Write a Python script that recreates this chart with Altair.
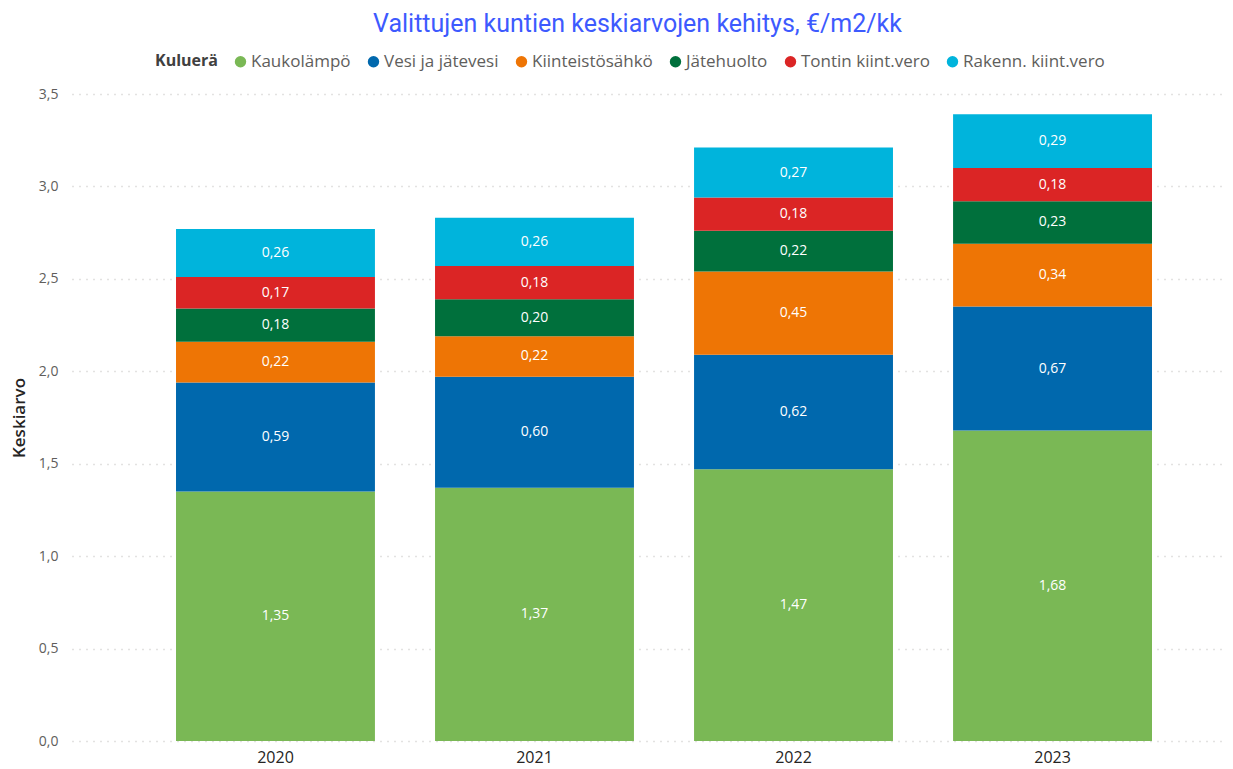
import altair as alt
import pandas as pd

years = ["2020", "2021", "2022", "2023"]
categories = ["Kaukolämpö", "Vesi ja jätevesi", "Kiinteistösähkö", "Jätehuolto", "Tontin kiint.vero", "Rakenn. kiint.vero"]
colors = ["#7AB855", "#0068AD", "#EE7505", "#00703C", "#DB2525", "#00B4DC"]
values = {
    "Kaukolämpö": [1.35, 1.37, 1.47, 1.68],
    "Vesi ja jätevesi": [0.59, 0.60, 0.62, 0.67],
    "Kiinteistösähkö": [0.22, 0.22, 0.45, 0.34],
    "Jätehuolto": [0.18, 0.20, 0.22, 0.23],
    "Tontin kiint.vero": [0.17, 0.18, 0.18, 0.18],
    "Rakenn. kiint.vero": [0.26, 0.26, 0.27, 0.29],
}

rows = []
for ci, c in enumerate(categories):
    for yi, y in enumerate(years):
        rows.append({"Vuosi": y, "Kuluerä": c, "Keskiarvo": values[c][yi], "ord": ci})
df = pd.DataFrame(rows)

font = "Open Sans"

x_enc = alt.X("Vuosi:N", sort=years,
              scale=alt.Scale(paddingInner=0.232, paddingOuter=0.3417, align=0.5876),
              axis=alt.Axis(title=None, labelAngle=0, labelFontSize=16, labelColor="#252423",
                            labelFont=font, domain=False, ticks=False, labelPadding=8))

base = alt.Chart(df).transform_stack(
    stack="Keskiarvo", groupby=["Vuosi"], as_=["y0", "y1"],
    sort=[alt.SortField("ord", order="ascending")]
).transform_calculate(
    mid="(datum.y0 + datum.y1) / 2",
    lab="replace(format(datum.Keskiarvo, '.2f'), '.', ',')"
)

bars = base.mark_bar().encode(
    x=x_enc,
    y=alt.Y("y0:Q", scale=alt.Scale(domain=[0, 3.5], nice=False),
            axis=alt.Axis(title="Keskiarvo", values=[0, 0.5, 1, 1.5, 2, 2.5, 3, 3.5],
                          labelExpr="replace(format(datum.value, '.1f'), '.', ',')",
                          labelFontSize=14, labelColor="#605E5C", labelFont=font,
                          labelPadding=14, domain=False, ticks=False,
                          grid=True, gridDash=[1, 6], gridColor="#C8C6C4", gridWidth=1.5,
                          titleFont=font, titleFontSize=17, titleFontWeight=600,
                          titleColor="#252423", titleX=-44)),
    y2="y1:Q",
    color=alt.Color("Kuluerä:N", scale=alt.Scale(domain=categories, range=colors),
                    legend=alt.Legend(orient="none", legendX=83, legendY=-41, direction="horizontal",
                                      titleOrient="left", title="Kuluerä", symbolType="circle",
                                      symbolSize=130, titleFont=font, titleFontSize=16,
                                      titleFontWeight="bold", titleColor="#404040",
                                      labelFont=font, labelFontSize=17, labelColor="#605E5C",
                                      columnPadding=14, labelOffset=2, titlePadding=14,
                                      labelLimit=300)),
    order=alt.Order("ord:Q"),
)

texts = base.mark_text(color="white", fontSize=14, font=font).encode(
    x=alt.X("Vuosi:N", sort=years),
    y=alt.Y("mid:Q"),
    text="lab:N",
)

chart = alt.layer(bars, texts).properties(
    width=1153, height=647,
    autosize=alt.AutoSizeParams(type="none"),
    padding={"left": 72, "top": 94, "right": 8, "bottom": 28},
    title=alt.TitleParams("Valittujen kuntien keskiarvojen kehitys, €/m2/kk", fontSize=25,
                          font="Roboto", fontWeight="normal", color="#3D5AFE",
                          anchor="middle", dx=-11, offset=16),
).configure_view(stroke=None)

chart.save("out.html", embed_options={"renderer": "svg", "actions": False})
